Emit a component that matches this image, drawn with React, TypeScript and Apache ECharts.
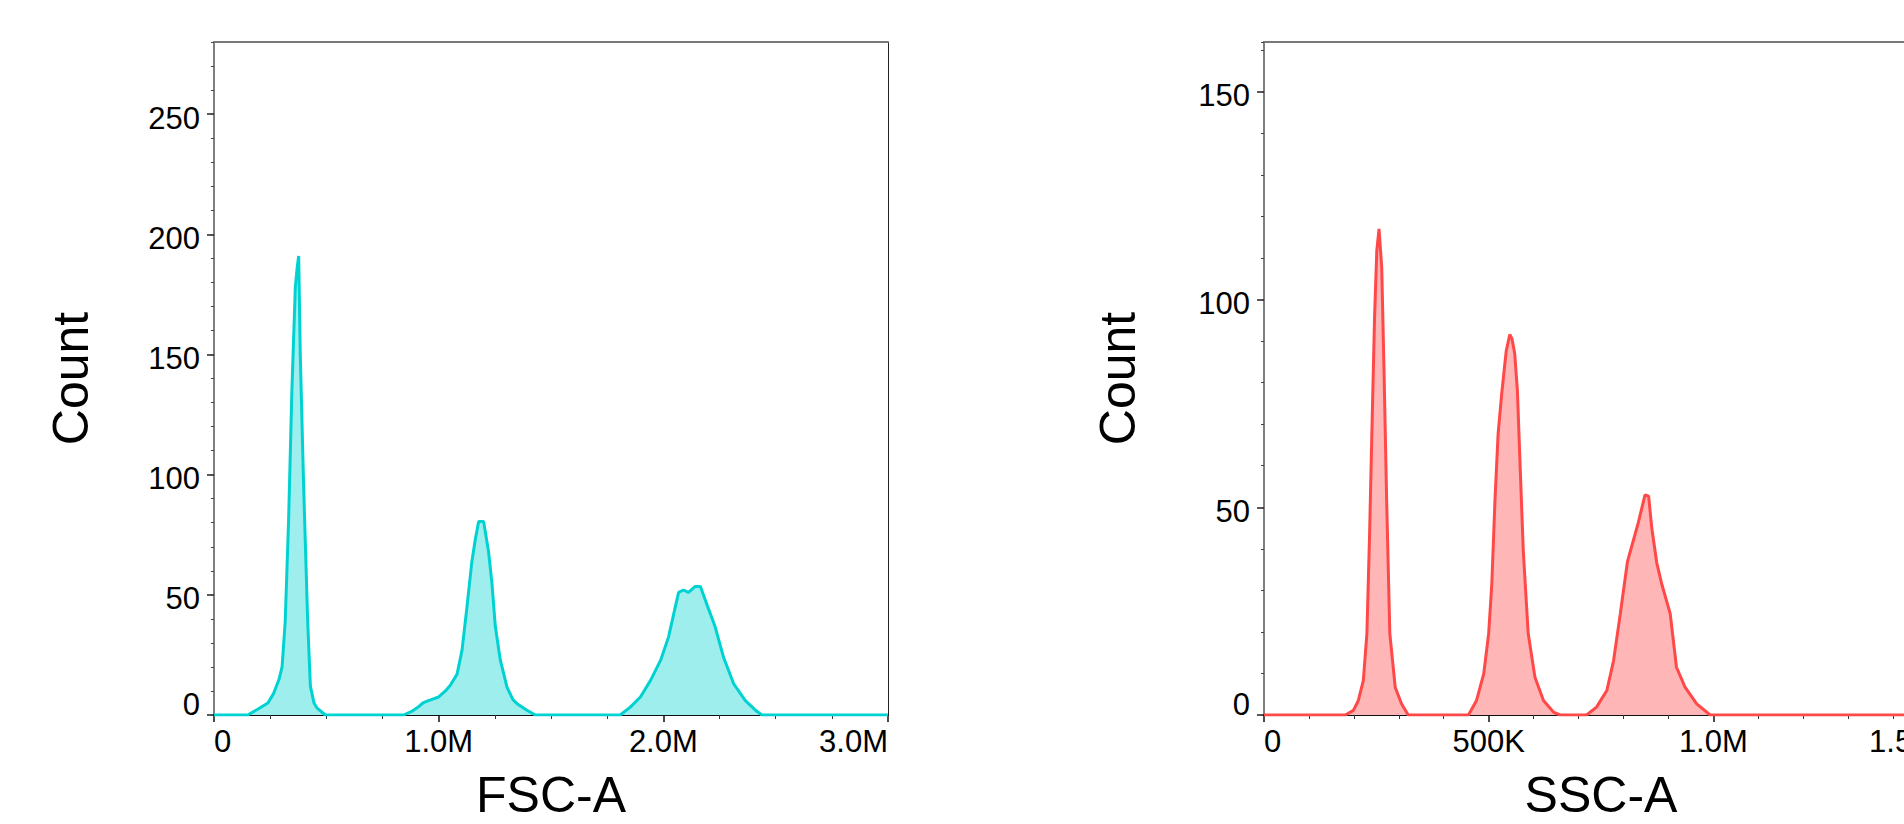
import React, { useEffect, useRef } from "react";
import * as echarts from "echarts";

// FSC-A histogram (x in events' FSC-A units, y = count)
const fscX = [
  0, 150000, 200000, 240000, 265000, 290000, 303000, 317000, 332000, 347000, 362000, 370000, 377000,
  384000, 399000, 417000, 429000, 445000, 458000, 495000,
  844000, 880000, 904000, 930000, 955000, 1000000, 1030000, 1052000, 1082000, 1104000, 1126000,
  1148000, 1163000, 1178000, 1200000, 1222000, 1237000, 1252000, 1274000, 1304000, 1330000,
  1349000, 1393000, 1430000,
  1808000, 1853000, 1898000, 1943000, 1988000, 2023000, 2046000, 2068000, 2090000, 2112000,
  2142000, 2165000, 2194000, 2231000, 2268000, 2313000, 2365000, 2410000, 2439000, 3000000,
];
const fscY = [
  0, 0, 2.7, 5, 8.9, 15, 20, 39, 81, 136, 178, 186, 191,
  150, 95, 39, 12, 5, 3, 0,
  0, 1.5, 3, 5, 6, 7.5, 10, 12.4, 17, 27, 45,
  64, 73, 80.5, 80.5, 68, 55, 37, 23, 11.6, 6.5,
  4.7, 2, 0,
  0, 3.3, 7.5, 14.4, 22.8, 32.4, 42, 51, 52, 51,
  53.5, 53.5, 46, 36.6, 24, 13, 6, 2, 0, 0,
];

// SSC-A histogram
const sscX = [
  0, 181000, 199000, 210000, 221000, 229000, 235000, 240000, 246000, 251000, 256000, 262000,
  267000, 273000, 280000, 292000, 306000, 321000,
  455000, 473000, 489000, 500000, 507000, 514000, 521000, 529000, 539000, 547000, 552000,
  558000, 564000, 570000, 577000, 588000, 603000, 622000, 644000, 659000,
  718000, 740000, 763000, 778000, 793000, 809000, 822000, 833000, 848000, 856000, 863000,
  874000, 885000, 904000, 918000, 937000, 963000, 993000, 1500000,
];
const sscY = [
  0, 0, 1.1, 3.5, 8.3, 19.6, 43.6, 67.6, 95.6, 111.7, 117, 107.7,
  83.6, 51.6, 19.6, 6.7, 2.7, 0,
  0, 3.5, 9.9, 19.6, 31.6, 51.6, 67.6, 77.3, 87.6, 91.6, 90.5,
  87, 78, 60, 39.6, 19.6, 9.1, 3.5, 0.7, 0,
  0, 1.9, 5.9, 13.1, 24.4, 37, 42, 46.3, 53, 52.7, 45,
  36.7, 31.6, 24.4, 11.5, 6.7, 2.7, 0, 0,
];

const fscCountTicks = [0, 50, 100, 150, 200, 250];
const sscCountTicks = [0, 50, 100, 150];

const FONT = '"Liberation Sans", Arial, Helvetica, sans-serif';

function fmtX(v: number): string {
  if (v === 0) return "0";
  if (v >= 1e6) return (v / 1e6).toFixed(1) + "M";
  return Math.round(v / 1e3) + "K";
}

function mainX(gridIndex: number, max: number, interval: number, minorSplit: number, name: string) {
  return {
    type: "value",
    gridIndex,
    position: "bottom",
    min: 0,
    max,
    interval,
    name,
    nameLocation: "middle",
    nameGap: 55,
    nameTextStyle: { fontSize: 50, color: "#000", fontFamily: FONT },
    axisLine: { show: true, onZero: false, lineStyle: { color: "#111", width: 2 } },
    axisTick: { show: true, length: 7, lineStyle: { color: "#111", width: 1.5 } },
    minorTick: { show: true, splitNumber: minorSplit, length: 4, lineStyle: { color: "#333", width: 1 } },
    splitLine: { show: false },
    minorSplitLine: { show: false },
    axisLabel: {
      fontSize: 31,
      color: "#000",
      fontFamily: FONT,
      margin: 11,
      formatter: fmtX,
      alignMinLabel: "left",
      alignMaxLabel: "right",
      hideOverlap: false,
    },
  };
}

function topX(gridIndex: number, max: number) {
  return {
    type: "value",
    gridIndex,
    position: "top",
    min: 0,
    max,
    axisLine: { show: true, onZero: false, lineStyle: { color: "#777", width: 2 } },
    axisTick: { show: false },
    axisLabel: { show: false },
    splitLine: { show: false },
  };
}

function majorY(gridIndex: number, max: number, ticks: number[], nameGap: number) {
  return {
    type: "value",
    gridIndex,
    position: "left",
    min: 0,
    max,
    name: "Count",
    nameLocation: "middle",
    nameGap,
    nameTextStyle: { fontSize: 50, color: "#000", fontFamily: FONT },
    axisLine: { show: true, onZero: false, lineStyle: { color: "#555", width: 1.5 } },
    axisTick: { show: true, length: 7, customValues: ticks, lineStyle: { color: "#222", width: 1.5 } },
    splitLine: { show: false },
    axisLabel: {
      customValues: ticks,
      margin: 14,
      formatter: (v: number) => (v === 0 ? "{z|0}" : "{a|" + v + "}"),
      rich: {
        a: { fontSize: 31, color: "#000", fontFamily: FONT, padding: [8, 0, 0, 0] },
        z: { fontSize: 31, color: "#000", fontFamily: FONT, padding: [0, 0, 22, 0] },
      },
    },
  };
}

function minorY(gridIndex: number, max: number) {
  return {
    type: "value",
    gridIndex,
    position: "left",
    min: 0,
    max,
    interval: 10,
    axisLine: { show: false },
    axisTick: { show: true, length: 3, lineStyle: { color: "#444", width: 1 } },
    axisLabel: { show: false },
    splitLine: { show: false },
  };
}

function rightY(gridIndex: number, max: number) {
  return {
    type: "value",
    gridIndex,
    position: "right",
    min: 0,
    max,
    axisLine: { show: true, onZero: false, lineStyle: { color: "#222", width: 1 } },
    axisTick: { show: false },
    axisLabel: { show: false },
    splitLine: { show: false },
  };
}

export default function App() {
  const ref = useRef<HTMLDivElement>(null);

  useEffect(() => {
    if (!ref.current) return;
    const chart = echarts.init(ref.current, null, { renderer: "svg" });
    const option: any = {
      animation: false,
      backgroundColor: "#fff",
      textStyle: { fontFamily: FONT },
      grid: [
        { left: 214, top: 42, width: 674, height: 673, containLabel: false, outerBoundsMode: "none" },
        { left: 1264, top: 42, width: 674, height: 673, containLabel: false, outerBoundsMode: "none" },
      ],
      xAxis: [
        mainX(0, 3000000, 1000000, 4, "FSC-A"),
        topX(0, 3000000),
        mainX(1, 1500000, 500000, 5, "SSC-A"),
        topX(1, 1500000),
      ],
      yAxis: [
        majorY(0, 280, fscCountTicks, 118),
        minorY(0, 280),
        rightY(0, 280),
        majorY(1, 162, sscCountTicks, 121),
        minorY(1, 162),
        rightY(1, 162),
      ],
      series: [
        {
          type: "line",
          xAxisIndex: 0,
          yAxisIndex: 0,
          data: fscX.map((x, i) => [x, fscY[i]]),
          showSymbol: false,
          symbol: "none",
          lineStyle: { color: "#00D2D2", width: 3 },
          itemStyle: { color: "#00D2D2" },
          areaStyle: { color: "#9EEEEE", opacity: 1 },
        },
        {
          type: "line",
          xAxisIndex: 2,
          yAxisIndex: 3,
          data: sscX.map((x, i) => [x, sscY[i]]),
          showSymbol: false,
          symbol: "none",
          lineStyle: { color: "#FF4848", width: 3 },
          itemStyle: { color: "#FF4848" },
          areaStyle: { color: "#FFB6B7", opacity: 1 },
        },
      ],
    };
    chart.setOption(option);
    return () => chart.dispose();
  }, []);

  return (
    <div
      ref={ref}
      style={{ position: "absolute", left: 0, top: 0, width: 1904, height: 824, background: "#fff" }}
    />
  );
}
